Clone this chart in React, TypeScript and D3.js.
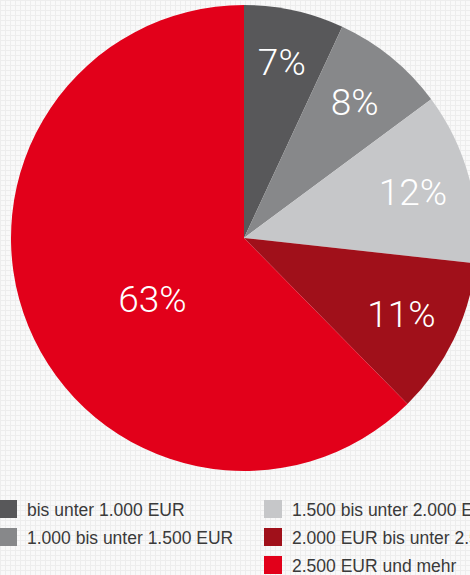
import * as React from 'react';
import * as d3 from 'd3';

const categories = [
  'bis unter 1.000 EUR',
  '1.000 bis unter 1.500 EUR',
  '1.500 bis unter 2.000 EUR',
  '2.000 EUR bis unter 2.500 EUR',
  '2.500 EUR und mehr',
];
const shares = [7, 8, 12, 11, 63];
const colors = ['#58585a', '#87888a', '#c6c7c9', '#a0101a', '#e2001a'];

const width = 470;
const height = 575;

export default function App() {
  const svgRef = React.useRef<SVGSVGElement>(null);

  React.useEffect(() => {
    if (!svgRef.current) return;
    const svg = d3.select(svgRef.current);
    svg.selectAll('*').remove();

    // faint grid paper background
    const pattern = svg
      .append('defs')
      .append('pattern')
      .attr('id', 'grid')
      .attr('width', 5)
      .attr('height', 5)
      .attr('patternUnits', 'userSpaceOnUse');
    pattern.append('rect').attr('width', 5).attr('height', 5).attr('fill', '#f9f9f9');
    pattern.append('rect').attr('width', 5).attr('height', 1).attr('fill', '#ededed');
    pattern.append('rect').attr('width', 1).attr('height', 5).attr('fill', '#ededed');
    svg.append('rect').attr('width', width).attr('height', height).attr('fill', 'url(#grid)');

    const cx = 244;
    const cy = 238;
    const r = 233;

    const pie = d3.pie<number>().sort(null).value((d) => d);
    const arcs = pie(shares);
    const arc = d3.arc<d3.PieArcDatum<number>>().innerRadius(0).outerRadius(r);

    const g = svg.append('g').attr('transform', `translate(${cx},${cy})`);
    g.selectAll('path')
      .data(arcs)
      .enter()
      .append('path')
      .attr('d', arc)
      .attr('fill', (d, i) => colors[i]);

    // labels: small slices near the rim, the big one further in
    g.selectAll('text')
      .data(arcs)
      .enter()
      .append('text')
      .attr('transform', (d, i) => {
        const big = i === arcs.length - 1;
        const mid = (d.startAngle + d.endAngle) / 2 - (big ? 0.2 : 0);
        const lr = big ? 110 : 175;
        return `translate(${lr * Math.sin(mid)},${-lr * Math.cos(mid) - (i === 0 ? 5 : 0)})`;
      })
      .attr('text-anchor', 'middle')
      .attr('dominant-baseline', 'central')
      .attr('fill', '#fff')
      .style('font-family', 'Roboto, sans-serif')
      .style('font-weight', 300)
      .style('font-size', '37px')
      .text((d) => `${d.data}%`);

    // legend in two columns
    const legend = svg.append('g');
    const items = legend
      .selectAll('g')
      .data(categories)
      .enter()
      .append('g')
      .attr('transform', (d, i) => {
        const col = i < 2 ? 0 : 1;
        const row = i < 2 ? i : i - 2;
        return `translate(${col === 0 ? -1 : 264},${500 + row * 28})`;
      });
    items
      .append('rect')
      .attr('width', 18)
      .attr('height', 18)
      .attr('fill', (d, i) => colors[i]);
    items
      .append('text')
      .attr('x', 28)
      .attr('y', 16)
      .attr('fill', '#3a3a3a')
      .style('font-family', '"Liberation Sans", Arial, sans-serif')
      .style('font-size', '17.5px')
      .text((d) => d);
  }, []);

  return (
    <svg
      ref={svgRef}
      width={width}
      height={height}
      style={{ position: 'absolute', left: 0, top: 0 }}
    />
  );
}
